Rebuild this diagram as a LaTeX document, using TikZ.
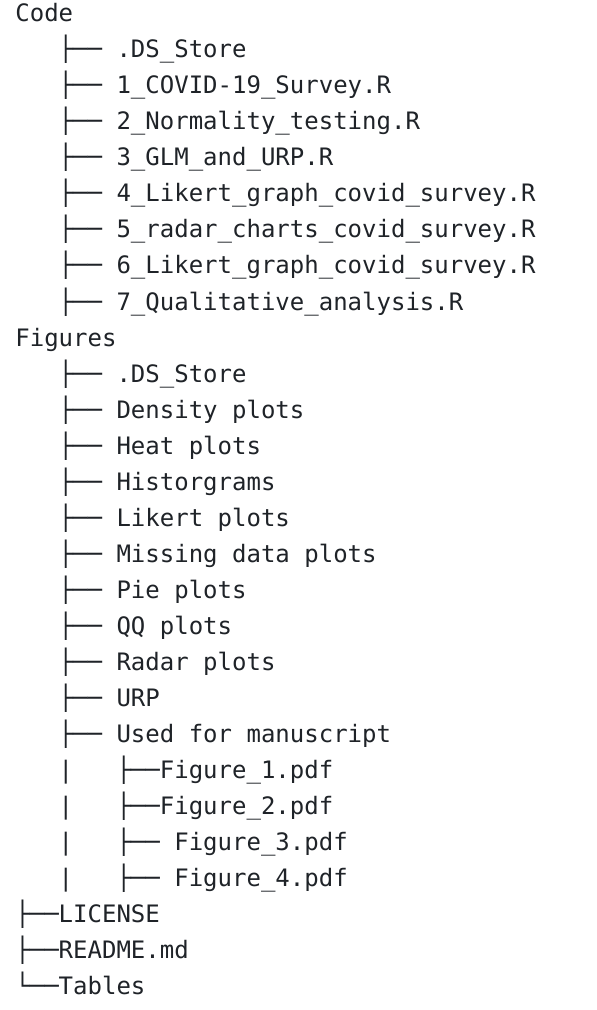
\documentclass[tikz,border=0pt]{standalone}
\usepackage{xcolor}
\usepackage{fontspec}
\setmonofont{DejaVu Sans Mono}
\usepackage{tikz}
\usetikzlibrary{positioning}

\definecolor{ink}{HTML}{1F2328}

\begin{document}
\begin{tikzpicture}[every node/.style={inner sep=0pt, anchor=base west, text=ink, font=\ttfamily\fontsize{12pt}{18pt}\selectfont}]
	\useasboundingbox[fill=white] (0,0) rectangle (298pt,-505pt);
	\node (code) at (7.5pt,-11pt) {Code};
	\begin{scope}[node distance = 18pt]
	    \node[below = of code.base west, anchor=base west] (dsA) {~~~├──~.DS\_Store};
	    \node[below = of dsA.base west, anchor=base west] (covid) {~~~├──~1\_COVID-19\_Survey.R};
	    \node[below = of covid.base west, anchor=base west] (normality) {~~~├──~2\_Normality\_testing.R};
	    \node[below = of normality.base west, anchor=base west] (glm) {~~~├──~3\_GLM\_and\_URP.R};
	    \node[below = of glm.base west, anchor=base west] (likertA) {~~~├──~4\_Likert\_graph\_covid\_survey.R};
	    \node[below = of likertA.base west, anchor=base west] (radar) {~~~├──~5\_radar\_charts\_covid\_survey.R};
	    \node[below = of radar.base west, anchor=base west] (likertB) {~~~├──~6\_Likert\_graph\_covid\_survey.R};
	    \node[below = of likertB.base west, anchor=base west] (qual) {~~~├──~7\_Qualitative\_analysis.R};
	    \node[below = of qual.base west, anchor=base west] (figures) {Figures};
	    \node[below = of figures.base west, anchor=base west] (dsB) {~~~├──~.DS\_Store};
	    \node[below = of dsB.base west, anchor=base west] (density) {~~~├──~Density plots};
	    \node[below = of density.base west, anchor=base west] (heat) {~~~├──~Heat plots};
	    \node[below = of heat.base west, anchor=base west] (hist) {~~~├──~Historgrams};
	    \node[below = of hist.base west, anchor=base west] (likertplots) {~~~├──~Likert plots};
	    \node[below = of likertplots.base west, anchor=base west] (missing) {~~~├──~Missing data plots};
	    \node[below = of missing.base west, anchor=base west] (pie) {~~~├──~Pie plots};
	    \node[below = of pie.base west, anchor=base west] (qq) {~~~├──~QQ plots};
	    \node[below = of qq.base west, anchor=base west] (radarplots) {~~~├──~Radar plots};
	    \node[below = of radarplots.base west, anchor=base west] (urp) {~~~├──~URP};
	    \node[below = of urp.base west, anchor=base west] (used) {~~~├──~Used for manuscript};
	    \node[below = of used.base west, anchor=base west] (figA) {~~~|~~~├──Figure\_1.pdf};
	    \node[below = of figA.base west, anchor=base west] (figB) {~~~|~~~├──Figure\_2.pdf};
	    \node[below = of figB.base west, anchor=base west] (figC) {~~~|~~~├──~Figure\_3.pdf};
	    \node[below = of figC.base west, anchor=base west] (figD) {~~~|~~~├──~Figure\_4.pdf};
	    \node[below = of figD.base west, anchor=base west] (license) {├──LICENSE};
	    \node[below = of license.base west, anchor=base west] (readme) {├──README.md};
	    \node[below = of readme.base west, anchor=base west] (tables) {└──Tables};
	\end{scope}
\end{tikzpicture}
\end{document}
